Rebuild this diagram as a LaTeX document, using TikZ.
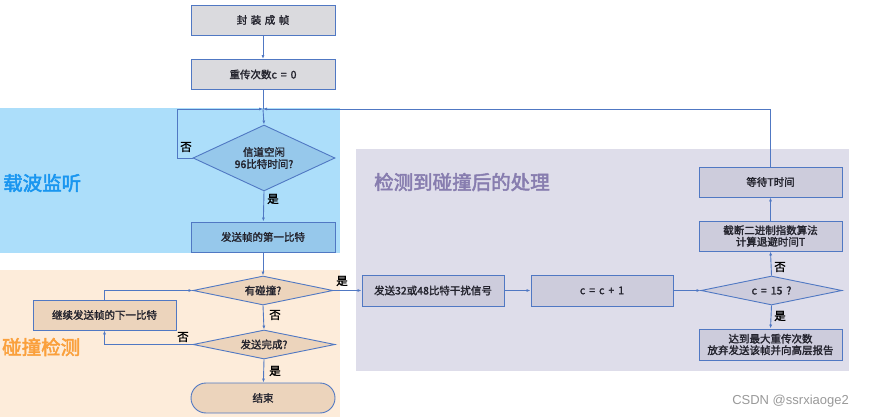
\documentclass[tikz,border=0pt]{standalone}
\usepackage{fontspec}
\setmainfont{Noto Sans CJK SC}
\newfontfamily\cjkb[FakeBold=1.8]{Noto Sans CJK SC}
\newfontfamily\cjkt[FakeBold=2.5]{Noto Sans CJK SC}
\newfontfamily\wmfont{Liberation Sans}
\usetikzlibrary{shapes.geometric,arrows.meta}
\definecolor{bluereg}{RGB}{172,222,250}
\definecolor{orangereg}{RGB}{253,236,218}
\definecolor{purplereg}{RGB}{222,221,234}
\definecolor{edgec}{RGB}{80,120,195}
\definecolor{grayfill}{RGB}{218,218,222}
\definecolor{bluefill}{RGB}{150,200,235}
\definecolor{orangefill}{RGB}{236,212,188}
\definecolor{purplefill}{RGB}{205,204,220}
\definecolor{titleblue}{RGB}{25,150,240}
\definecolor{titleorange}{RGB}{250,160,60}
\definecolor{titlepurple}{RGB}{135,125,175}
\definecolor{txt}{RGB}{35,35,45}
\newcommand{\gapsp}{\hspace{4pt}}
\tikzset{
  x=1pt,y=-1pt,
  boxn/.style={draw=edgec,line width=0.9pt,minimum width=144pt,minimum height=30pt,inner sep=1pt,
    font=\cjkb\fontsize{10.5}{12}\selectfont,text=txt,align=center},
  dia/.style={diamond,draw=edgec,line width=0.9pt,inner sep=0pt,aspect=2.5,
    font=\cjkb\fontsize{10.5}{12}\selectfont,text=txt,align=center},
  arr/.style={draw=edgec,line width=0.9pt,-{Latex[length=4pt,width=3pt]}},
  ln/.style={draw=edgec,line width=0.9pt},
  lab/.style={font=\cjkb\fontsize{11.5}{13}\selectfont,text=black,inner sep=0pt},
  ttl/.style={font=\cjkt\fontsize{19.5}{22}\selectfont,inner sep=0pt,anchor=west}
}
\begin{document}
\begin{tikzpicture}
\useasboundingbox (0,0) rectangle (869,419);
\fill[white] (0,0) rectangle (869,419);
% regions
\fill[bluereg] (0,108) rectangle (340,253);
\fill[orangereg] (0,270) rectangle (340,417);
\fill[purplereg] (356,149) rectangle (849,371);
\node[ttl,text=titleblue] (t1) at (3,183) {载波监听};
\node[ttl,text=titleorange] (t2) at (2,347) {碰撞检测};
\node[ttl,text=titlepurple] (t3) at (374,182) {检测到碰撞后的处理};
% nodes
\node[boxn,fill=grayfill] (A) at (263,20) {封\,\,装\,\,成\,\,帧};
\node[boxn,fill=grayfill] (B) at (263,74.5) {重传次数c\gapsp=\gapsp0};
\node[dia,fill=bluefill,minimum width=142pt,minimum height=66pt] (D1) at (264,158) {信道空闲\\96比特时间?};
\node[boxn,fill=bluefill] (C) at (263,237) {发送帧的第一比特};
\node[dia,fill=orangefill,minimum width=140pt,minimum height=29pt] (D2) at (263,290.5) {有碰撞?};
\node[boxn,fill=orangefill,minimum width=143pt] (K) at (104.5,315) {继续发送帧的下一比特};
\node[dia,fill=orangefill,minimum width=142pt,minimum height=29pt] (D3) at (264,344.5) {发送完成?};
\node[boxn,fill=orangefill,rounded corners=15pt] (E) at (263,398) {结束};
\node[boxn,fill=purplefill,minimum width=142pt,minimum height=31pt] (J) at (433,290.5) {发送32或48比特干扰信号};
\node[boxn,fill=purplefill,minimum width=142pt,minimum height=31pt] (P) at (602,290.5) {c\gapsp=\gapsp c\gapsp+\gapsp1};
\node[dia,fill=purplefill,minimum width=141pt,minimum height=29pt] (D4) at (771.5,290.5) {c\gapsp=\gapsp15\gapsp?};
\node[boxn,fill=purplefill,minimum width=143pt,minimum height=31pt,font=\cjkb\fontsize{10.5}{11.5}\selectfont] (R) at (770.5,344.5) {达到最大重传次数\\放弃发送该帧并向高层报告};
\node[boxn,fill=purplefill,minimum width=143pt,minimum height=30pt,font=\cjkb\fontsize{10.5}{11.5}\selectfont] (T) at (770.5,236) {截断二进制指数算法\\计算退避时间T};
\node[boxn,fill=purplefill,minimum width=143pt,minimum height=30pt] (W) at (770.5,182) {等待T时间};
% merge points
\coordinate (M) at (263,109);
\coordinate (L) at (177,109);
% connectors
\draw[arr] (A) -- (B);
\draw[ln] (B) -- (M);
\draw[arr] (M) -- (D1.north);
\draw[arr] (D1.west) -| (L) -- (M);
\draw[arr] (W.north) |- (M);
\draw[arr] (D1.south) -- (C);
\draw[arr] (C) -- (D2.north);
\draw[arr] (D2.east) -- (J.west);
\draw[arr] (D2.south) -- (D3.north);
\draw[arr] (D3.west) -| (K.south);
\draw[arr] (K.north) |- (D2.west);
\draw[arr] (D3.south) -- (E);
\draw[arr] (J) -- (P);
\draw[arr] (P) -- (D4.west);
\draw[arr] (D4.north) -- (T.south);
\draw[arr] (T) -- (W);
\draw[arr] (D4.south) -- (R.north);
% labels
\node[lab] (l1) at (186,147) {否};
\node[lab] (l2) at (273,199) {是};
\node[lab] (l3) at (342,281) {是};
\node[lab] (l4) at (275,315) {否};
\node[lab] (l5) at (183,337) {否};
\node[lab] (l6) at (275,371) {是};
\node[lab] (l7) at (780,267) {否};
\node[lab] (l8) at (780,316) {是};
% watermark
\node[font=\wmfont\fontsize{13}{14}\selectfont,text=black!40,anchor=east,inner sep=0pt] (wm) at (849,401) {CSDN @ssrxiaoge2};
\end{tikzpicture}
\end{document}
